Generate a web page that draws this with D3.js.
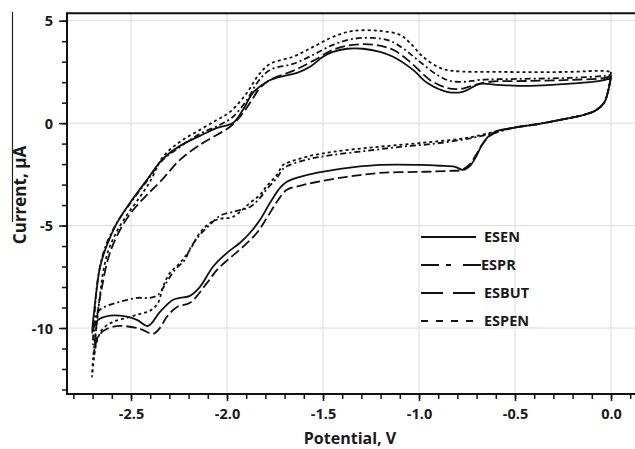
<!DOCTYPE html>
<html>
<head>
<meta charset="utf-8">
<script src="https://cdn.jsdelivr.net/npm/d3@7"></script>
<style>
  body { margin: 0; background: #fff; }
  svg { display: block; }
  text { font-family: "Open Sans", sans-serif; font-weight: 700; fill: #1a1a1a; }
</style>
</head>
<body>
<svg id="chart" width="635" height="449"></svg>
<script>
// Axis ticks
const potentialTicks = [-2.5, -2.0, -1.5, -1.0, -0.5, 0.0];
const currentTicks = [5, 0, -5, -10];
const potentialMinor = d3.range(-28, 2).map(d => d / 10);
const currentMinor = d3.range(-13, 6);

// Cyclic voltammograms: [potential V, current µA], cathodic sweep then anodic return
const esen = [
  [0.00, 2.21], [-0.016, 1.53], [-0.036, 0.99], [-0.083, 0.60], [-0.161, 0.36], [-0.266, 0.16],
  [-0.370, -0.03], [-0.510, -0.23], [-0.604, -0.42], [-0.641, -0.67], [-0.672, -1.06], [-0.703, -1.64],
  [-0.734, -2.08], [-0.771, -2.28], [-0.813, -2.13], [-0.891, -2.08], [-0.995, -2.04], [-1.203, -2.04],
  [-1.411, -2.23], [-1.620, -2.62], [-1.688, -2.86], [-1.724, -3.16], [-1.776, -3.89], [-1.828, -4.72],
  [-1.880, -5.35], [-1.932, -5.84], [-2.000, -6.33], [-2.073, -7.01], [-2.141, -7.99], [-2.193, -8.43],
  [-2.245, -8.53], [-2.281, -8.62], [-2.349, -9.21], [-2.411, -9.90], [-2.469, -9.60], [-2.521, -9.45],
  [-2.609, -9.40], [-2.677, -9.65], [-2.698, -10.09], [-2.703, -10.24],
  [-2.693, -9.26], [-2.677, -7.99], [-2.661, -7.01], [-2.625, -5.94], [-2.573, -4.87], [-2.505, -3.89],
  [-2.417, -2.77], [-2.339, -1.79], [-2.245, -1.11], [-2.141, -0.62], [-2.052, -0.23], [-1.969, 0.01],
  [-1.917, 0.65], [-1.865, 1.48], [-1.792, 2.02], [-1.724, 2.26], [-1.635, 2.45], [-1.568, 2.75],
  [-1.500, 3.24], [-1.448, 3.48], [-1.375, 3.63], [-1.292, 3.63], [-1.203, 3.48], [-1.135, 3.24],
  [-1.031, 2.60], [-0.958, 1.97], [-0.854, 1.53], [-0.771, 1.53], [-0.682, 1.92], [-0.594, 1.87],
  [-0.422, 1.82], [-0.229, 1.92], [-0.057, 2.06], [0.00, 2.21]
];

const espr = [
  [0.00, 2.36], [-0.016, 1.53], [-0.036, 0.99], [-0.083, 0.60], [-0.161, 0.36], [-0.266, 0.16],
  [-0.370, -0.03], [-0.510, -0.23], [-0.604, -0.47], [-0.750, -0.77], [-0.927, -1.01], [-1.099, -1.16],
  [-1.271, -1.35], [-1.448, -1.55], [-1.568, -1.74], [-1.672, -2.04], [-1.708, -2.23], [-1.740, -2.67],
  [-1.792, -3.21], [-1.828, -3.65], [-1.880, -4.09], [-1.969, -4.33], [-2.036, -4.52], [-2.089, -4.96],
  [-2.141, -5.45], [-2.193, -6.13], [-2.219, -6.67], [-2.271, -7.16], [-2.323, -7.89], [-2.359, -8.38],
  [-2.401, -8.53], [-2.469, -8.53], [-2.557, -8.72], [-2.625, -8.92], [-2.672, -9.21], [-2.698, -10.80],
  [-2.688, -9.11], [-2.677, -7.89], [-2.656, -6.77], [-2.630, -5.94], [-2.594, -5.21], [-2.557, -4.62],
  [-2.490, -3.74], [-2.417, -2.82], [-2.339, -1.84], [-2.245, -1.16], [-2.141, -0.52], [-2.036, -0.08],
  [-1.969, 0.31], [-1.896, 1.14], [-1.839, 2.02], [-1.776, 2.60], [-1.656, 2.89], [-1.552, 3.33],
  [-1.448, 3.82], [-1.344, 4.11], [-1.240, 4.16], [-1.151, 4.02], [-1.073, 3.58], [-0.995, 2.99],
  [-0.906, 2.36], [-0.839, 2.06], [-0.760, 2.02], [-0.682, 2.11], [-0.474, 2.16], [-0.214, 2.21],
  [-0.031, 2.31], [0.00, 2.36]
];

const esbut = [
  [0.00, 2.31], [-0.016, 1.53], [-0.036, 0.99], [-0.083, 0.60], [-0.161, 0.36], [-0.266, 0.16],
  [-0.370, -0.03], [-0.510, -0.23], [-0.578, -0.38], [-0.630, -0.62], [-0.672, -1.06], [-0.703, -1.55],
  [-0.734, -1.99], [-0.776, -2.28], [-0.839, -2.33], [-0.995, -2.38], [-1.203, -2.43], [-1.375, -2.62],
  [-1.552, -2.91], [-1.620, -3.06], [-1.688, -3.25], [-1.740, -3.84], [-1.792, -4.62], [-1.844, -5.35],
  [-1.917, -6.04], [-1.984, -6.58], [-2.052, -7.16], [-2.104, -7.80], [-2.193, -8.77], [-2.260, -8.97],
  [-2.313, -9.45], [-2.349, -9.99], [-2.385, -10.28], [-2.453, -10.04], [-2.557, -9.90], [-2.625, -10.04],
  [-2.672, -10.43], [-2.693, -11.30],
  [-2.688, -10.82], [-2.672, -9.11], [-2.651, -7.99], [-2.625, -6.82], [-2.594, -5.94], [-2.542, -4.96],
  [-2.479, -4.13], [-2.417, -3.50], [-2.339, -2.77], [-2.245, -1.79], [-2.141, -1.06], [-2.052, -0.57],
  [-1.984, -0.18], [-1.932, 0.31], [-1.880, 0.99], [-1.828, 1.72], [-1.766, 2.16], [-1.656, 2.55],
  [-1.552, 3.04], [-1.448, 3.58], [-1.344, 3.82], [-1.229, 3.82], [-1.135, 3.58], [-1.047, 2.99],
  [-0.943, 2.11], [-0.854, 1.72], [-0.786, 1.67], [-0.708, 1.87], [-0.630, 2.02], [-0.422, 2.06],
  [-0.214, 2.11], [-0.031, 2.21], [0.00, 2.31]
];

const espen = [
  [0.00, 2.50], [-0.010, 1.80], [-0.036, 0.99], [-0.083, 0.60], [-0.161, 0.36], [-0.266, 0.16],
  [-0.370, -0.03], [-0.510, -0.23], [-0.604, -0.42], [-0.750, -0.72], [-0.927, -0.91], [-1.099, -1.06],
  [-1.271, -1.21], [-1.448, -1.40], [-1.568, -1.60], [-1.672, -1.89], [-1.708, -2.04], [-1.740, -2.52],
  [-1.792, -3.06], [-1.828, -3.50], [-1.880, -3.89], [-1.969, -4.57], [-2.036, -4.67], [-2.089, -4.87],
  [-2.141, -5.35], [-2.193, -6.18], [-2.245, -6.82], [-2.297, -7.31], [-2.333, -7.99], [-2.359, -8.77],
  [-2.401, -9.16], [-2.453, -9.31], [-2.521, -9.50], [-2.594, -9.70], [-2.651, -10.09], [-2.682, -10.82],
  [-2.703, -12.38],
  [-2.698, -11.55], [-2.682, -10.09], [-2.661, -8.38], [-2.646, -7.31], [-2.620, -6.28], [-2.583, -5.45],
  [-2.531, -4.62], [-2.464, -3.74], [-2.401, -2.86], [-2.333, -1.64], [-2.245, -0.91], [-2.141, -0.33],
  [-2.052, 0.16], [-1.984, 0.55], [-1.896, 1.48], [-1.839, 2.31], [-1.776, 2.89], [-1.656, 3.24],
  [-1.552, 3.72], [-1.448, 4.21], [-1.344, 4.50], [-1.203, 4.50], [-1.099, 4.31], [-1.047, 3.92],
  [-0.979, 3.24], [-0.891, 2.70], [-0.823, 2.55], [-0.578, 2.50], [-0.229, 2.50], [-0.031, 2.55],
  [0.00, 2.50]
];

const seriesNames = ["ESEN", "ESPR", "ESBUT", "ESPEN"];
const seriesData = [esen, espr, esbut, espen];

// Line styles for curves and legend samples
const curveDash = [null, "6,3,2,3", "10,4", "3,3"];
const legendDash = [null, "18,7,5,12", "22,10", "7,8"];

const svg = d3.select("#chart");

// Plot frame
const frame = { left: 67, top: 13.3, bottom: 394, right: 640 };

const x = d3.scaleLinear().domain([-2.5, 0]).range([131, 611]);
const y = d3.scaleLinear().domain([5, -10]).range([20.7, 328]);

// Grid
const grid = svg.append("g").attr("stroke", "#dcdcdc").attr("stroke-width", 1);
grid.selectAll("line.v").data(potentialTicks).join("line")
  .attr("x1", d => x(d)).attr("x2", d => x(d))
  .attr("y1", frame.top).attr("y2", frame.bottom);
grid.selectAll("line.h").data(currentTicks).join("line")
  .attr("x1", frame.left).attr("x2", frame.right)
  .attr("y1", d => y(d)).attr("y2", d => y(d));

// Curves
svg.append("clipPath").attr("id", "plotClip").append("rect")
  .attr("x", frame.left).attr("y", frame.top)
  .attr("width", frame.right - frame.left).attr("height", frame.bottom - frame.top);

const line = d3.line()
  .x(d => x(d[0])).y(d => y(d[1]))
  .curve(d3.curveCatmullRom.alpha(0.5));

svg.append("g").attr("clip-path", "url(#plotClip)")
  .selectAll("path").data(seriesData).join("path")
  .attr("d", d => line(d))
  .attr("fill", "none")
  .attr("stroke", "#111")
  .attr("stroke-width", 1.8)
  .attr("stroke-linejoin", "round")
  .attr("stroke-dasharray", (d, i) => curveDash[i]);

// Y axis ticks
const yMinor = svg.append("g").attr("transform", `translate(${frame.left},0)`)
  .call(d3.axisLeft(y).tickValues(currentMinor).tickSize(5).tickFormat(""));
const yMajor = svg.append("g").attr("transform", `translate(${frame.left},0)`)
  .call(d3.axisLeft(y).tickValues(currentTicks).tickSize(8).tickPadding(6).tickFormat(d3.format("d")));

// X axis ticks
const xMinor = svg.append("g").attr("transform", `translate(0,${frame.bottom})`)
  .call(d3.axisBottom(x).tickValues(potentialMinor).tickSize(5).tickFormat(""));
const xMajor = svg.append("g").attr("transform", `translate(0,${frame.bottom})`)
  .call(d3.axisBottom(x).tickValues(potentialTicks).tickSize(7).tickFormat(d3.format(".1f")));

[yMinor, yMajor, xMinor, xMajor].forEach(g => {
  g.select(".domain").remove();
  g.selectAll(".tick line").attr("stroke", "#111").attr("stroke-width", 1.5);
  g.selectAll("text").attr("fill", "#1a1a1a").style("font-size", "14.5px")
    .attr("font-family", null);
});
xMajor.selectAll("text").attr("y", 25).attr("dy", null);
yMajor.selectAll("text").attr("dy", "0.35em");
d3.selectAll(".tick text").text(function () { return this.textContent.replace("\u2212", "-"); });

// Frame lines
const frameG = svg.append("g").attr("stroke", "#111").attr("stroke-width", 2);
frameG.append("line").attr("x1", frame.left).attr("x2", frame.left)
  .attr("y1", frame.top - 1).attr("y2", frame.bottom + 1);
frameG.append("line").attr("x1", frame.left).attr("x2", frame.right)
  .attr("y1", frame.top).attr("y2", frame.top);
frameG.append("line").attr("x1", frame.left).attr("x2", frame.right)
  .attr("y1", frame.bottom).attr("y2", frame.bottom);

// Axis titles
svg.append("text")
  .attr("x", 350).attr("y", 444)
  .attr("text-anchor", "middle")
  .style("font-size", "16px")
  .text("Potential, V");

svg.append("text")
  .attr("transform", "translate(26,195) rotate(-90)")
  .attr("text-anchor", "middle")
  .style("font-size", "17px")
  .text("Current, \u00b5A");

// Left edge rule
svg.append("line")
  .attr("x1", 12.5).attr("x2", 12.5).attr("y1", 12).attr("y2", 222)
  .attr("stroke", "#222").attr("stroke-width", 1.2);

// Legend
const legend = svg.append("g");
const entries = legend.selectAll("g").data(seriesNames).join("g")
  .attr("transform", (d, i) => `translate(421,${237 + i * 28})`);
entries.append("line")
  .attr("x1", 0).attr("x2", (d, i) => i === 1 ? 60 : 55)
  .attr("y1", 0).attr("y2", 0)
  .attr("stroke", "#111").attr("stroke-width", 2)
  .attr("stroke-dasharray", (d, i) => legendDash[i]);
entries.append("text")
  .attr("x", (d, i) => i === 1 ? 60 : 63)
  .attr("y", 0).attr("dy", "0.35em")
  .style("font-size", "14.5px")
  .text(d => d);
</script>
</body>
</html>
